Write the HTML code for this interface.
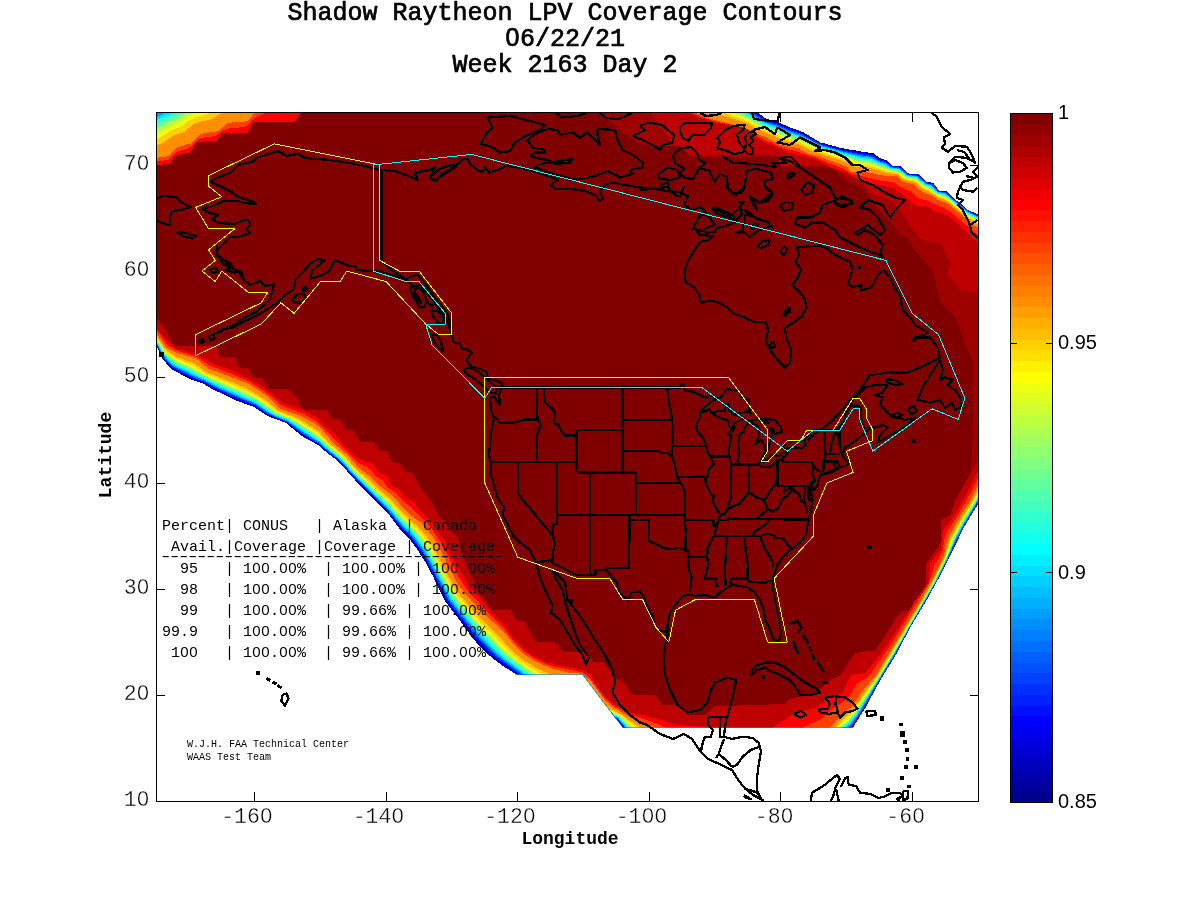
<!DOCTYPE html><html><head><meta charset="utf-8"><title>Shadow Raytheon LPV Coverage Contours</title>
<style>html,body{margin:0;padding:0;background:#fff}svg{display:block}text{font-family:"Liberation Mono","Courier New",monospace;fill:#000;white-space:pre}.s{font-family:"Liberation Sans",Arial,sans-serif}</style></head><body>
<svg width="1200" height="900" viewBox="0 0 1200 900">
<rect width="1200" height="900" fill="#fff"/>
<defs><clipPath id="fc"><polygon points="156,112 979,112 979,727.5 622.5,727.5 582.5,674.5 156,674.5"/></clipPath><clipPath id="ax"><rect x="156" y="112" width="823" height="690"/></clipPath></defs>
<path d="M254.5,801v-9M254.5,113v9M386.5,801v-9M386.5,113v9M517.5,801v-9M517.5,113v9M649.5,801v-9M649.5,113v9M780.5,801v-9M780.5,113v9M912.5,801v-9M912.5,113v9M157,695.5h8M978,695.5h-8M157,589.5h8M978,589.5h-8M157,483.5h8M978,483.5h-8M157,377.5h8M978,377.5h-8M157,271.5h8M978,271.5h-8M157,165.5h8M978,165.5h-8" stroke="#000" stroke-width="1" fill="none" shape-rendering="crispEdges"/>
<g clip-path="url(#fc)" shape-rendering="crispEdges">
<path d="M150.1,333.8 159.7,352.2 159.7,353.2 162.2,358.2 170.2,368.3 190.2,379.3 203.8,383.8 204.8,384.8 218.2,392.3 219.2,392.3 238.2,401.3 253.8,406.8 268.2,416.3 285.8,422.8 302.2,436.3 317.8,444.8 320.8,447.8 338.8,461.8 355.2,480.2 385.2,510.8 390.2,516.2 399.2,528.2 406.7,535.8 411.2,541.2 418.7,551.2 419.2,552.8 425.2,561.8 430.7,572.8 431.7,573.8 445.7,602.2 455.2,614.2 471.7,636.8 476.7,642.8 489.2,655.3 501.2,664.8 513.8,672.8 530.2,686.3 547.2,695.3 548.2,696.3 563.8,703.3 564.8,703.3 568.2,705.3 569.2,705.3 572.8,707.3 579.8,709.8 581.2,709.8 600.2,716.3 602.8,716.3 605.8,717.3 608.2,717.3 611.2,718.3 616.2,718.8 621.7,726.2 625.9,735.0 842.6,735.0 853.8,726.8 854.3,725.2 865.8,707.2 879.9,680.8 895.9,654.8 909.9,628.2 928.4,597.2 937.4,580.2 938.4,579.2 964.8,525.8 978.8,502.8 985.0,491.1 985.0,220.9 978.2,214.2 968.8,210.7 959.8,202.7 954.2,199.1 946.8,191.2 938.8,190.7 933.2,182.7 927.2,182.2 918.2,174.2 908.8,173.7 900.2,166.2 892.2,165.7 886.8,160.2 880.8,158.7 873.2,153.2 870.8,153.2 870.2,152.7 867.8,152.7 867.2,152.2 864.8,152.2 864.2,151.7 861.8,151.7 858.2,150.7 855.8,150.7 855.2,150.2 846.8,149.2 846.2,148.7 843.8,148.7 843.2,148.2 837.8,147.2 835.8,146.2 826.2,144.2 824.2,143.2 820.8,142.7 803.2,132.2 788.2,126.7 778.2,122.2 765.8,118.7 757.2,112.2 743.5,105.0 151.8,105.2 150.0,106.2Z" fill="#00008f"/>
<path d="M150.2,333.8 162.4,358.2 170.4,367.8 190.8,378.8 204.2,383.7 218.8,391.8 238.8,400.8 254.2,406.6 268.8,416.1 285.9,422.8 302.5,435.8 318.1,444.8 323.2,449.5 338.9,461.8 355.5,480.2 385.3,510.2 390.3,515.8 399.9,528.2 407.0,535.2 411.6,540.8 419.1,550.8 425.5,561.2 446.3,601.8 472.8,636.6 477.8,642.5 489.5,654.2 501.3,663.8 514.2,672.4 530.8,685.5 548.8,695.3 575.8,707.3 592.8,713.4 600.8,716.0 616.2,718.8 621.8,726.0 626.6,735.0 842.2,734.8 853.1,726.8 865.5,707.2 876.8,686.2 877.8,685.2 879.8,680.8 895.8,654.8 909.8,628.2 928.3,597.2 937.3,580.2 938.3,579.2 964.8,525.8 978.8,502.8 985.0,491.0 985.0,221.0 978.2,214.4 968.8,210.7 959.8,202.7 954.2,199.2 946.8,191.4 938.8,190.7 933.2,183.0 927.2,182.2 918.2,174.4 908.8,173.7 900.2,166.4 892.2,165.8 886.7,160.8 880.2,158.9 872.8,153.7 843.8,149.0 820.8,142.9 802.8,132.6 787.8,127.0 777.8,122.7 765.2,118.9 756.8,112.8 742.5,105.0 156.9,105.0 150.0,108.5Z" fill="#0000cf"/>
<path d="M150.1,333.2 162.9,357.8 170.8,366.9 191.1,377.8 204.3,382.8 218.2,390.5 239.2,399.8 254.2,405.7 268.8,415.3 286.2,422.2 302.8,434.9 318.6,444.2 323.4,448.8 339.3,461.2 356.2,480.1 385.9,509.8 390.9,515.2 400.7,527.8 407.8,534.6 412.2,540.0 419.9,550.2 426.4,560.8 447.2,601.3 473.8,635.8 478.9,641.8 492.8,655.3 502.2,663.0 515.2,671.8 531.2,684.3 549.8,694.2 570.2,702.8 576.2,705.9 593.2,712.4 601.2,715.2 616.8,718.6 622.4,725.8 627.7,735.0 840.6,735.0 841.8,734.3 852.4,726.2 865.0,706.8 879.7,680.2 895.3,654.8 909.8,628.1 935.6,583.8 964.5,525.2 978.2,502.5 985.0,489.7 985.0,221.8 977.8,214.9 968.2,210.9 959.8,203.4 953.8,199.3 946.8,192.2 938.2,190.9 932.8,183.6 926.8,182.7 917.8,174.9 908.2,174.0 899.8,166.9 891.8,166.2 886.2,161.4 880.2,159.8 872.2,154.7 861.2,153.2 843.2,149.8 820.2,143.6 802.8,133.6 787.8,128.1 777.2,123.6 765.0,119.8 756.5,113.8 739.9,105.0 162.5,105.0 150.0,111.1Z" fill="#0010ff"/>
<path d="M150.1,332.2 161.9,354.8 164.8,359.0 171.4,366.2 191.2,376.7 204.8,382.0 219.2,389.8 254.8,405.0 268.2,414.1 286.8,421.7 303.2,434.1 318.8,443.5 326.3,450.2 339.8,460.9 356.8,479.8 386.6,509.2 401.6,527.2 408.3,533.8 413.0,539.2 420.8,549.6 427.2,560.2 448.2,600.8 473.1,632.8 480.2,641.1 490.8,651.8 498.2,658.1 532.2,683.2 550.2,692.8 601.2,714.4 616.8,718.1 622.8,725.2 628.9,735.0 839.8,734.7 851.8,725.5 864.2,706.7 879.3,680.2 895.2,654.2 909.6,627.8 935.4,583.2 947.4,559.8 955.8,541.2 964.0,525.2 977.8,502.2 985.0,488.6 985.0,222.6 977.8,215.7 968.0,211.2 959.4,203.8 953.6,199.8 946.2,192.6 938.2,191.4 932.4,184.2 926.6,183.2 917.8,175.6 908.2,174.6 899.8,167.6 891.6,166.8 885.8,162.1 879.8,160.5 871.8,155.7 861.2,154.3 843.2,150.7 819.8,144.2 802.2,134.3 787.2,129.1 777.2,124.7 764.8,120.7 755.8,114.5 737.0,105.0 168.5,105.0 150.0,114.1Z" fill="#0050ff"/>
<path d="M150.0,331.2 162.2,354.3 165.5,358.8 172.2,365.6 191.8,375.7 205.2,381.2 218.8,388.4 255.2,404.2 269.2,413.7 276.8,417.3 287.2,421.2 303.8,433.2 319.2,442.9 326.8,449.7 340.2,460.4 357.3,479.2 387.2,508.7 402.5,526.8 409.3,533.2 414.1,538.8 421.8,549.1 428.2,559.8 449.3,600.2 478.8,637.2 491.8,650.6 499.2,657.2 530.8,680.6 545.8,688.9 553.2,692.5 571.2,699.3 580.2,704.2 601.2,713.4 617.2,717.8 623.3,724.8 630.2,735.0 838.1,735.0 851.0,724.8 857.9,715.2 894.7,654.2 909.2,627.8 927.6,596.8 937.5,578.8 947.0,559.8 955.5,540.8 963.6,524.8 977.2,502.2 985.0,487.7 985.0,223.4 977.2,216.2 967.8,211.6 959.2,204.2 953.2,200.1 946.0,193.2 937.8,191.7 931.8,184.8 926.2,183.7 917.2,176.1 907.8,175.0 899.2,168.0 891.2,167.3 885.8,163.2 879.2,161.3 871.8,156.9 860.8,155.4 843.2,151.6 819.8,145.0 802.2,135.4 786.8,130.0 776.8,125.6 764.2,121.5 751.8,113.5 734.3,105.0 174.0,105.0 150.0,117.2Z" fill="#009fff"/>
<path d="M150.2,330.8 162.2,353.2 166.1,358.2 172.8,364.8 188.8,372.4 192.2,374.6 205.8,380.4 218.2,387.0 255.2,403.1 269.8,413.0 276.8,416.5 287.8,420.7 304.2,432.4 319.7,442.2 327.2,449.2 340.8,460.0 357.9,478.8 385.2,505.3 392.8,513.4 403.2,526.0 410.2,532.7 415.2,538.2 422.6,548.2 427.8,556.7 450.2,599.4 480.0,636.2 492.8,649.5 502.2,657.8 526.2,675.7 536.8,682.6 553.8,690.9 572.2,697.6 580.8,702.6 598.8,711.4 617.3,717.2 623.8,724.2 631.7,735.0 837.2,734.8 850.2,724.1 857.3,714.8 894.2,654.1 908.8,627.8 934.7,583.2 946.6,559.8 954.8,540.8 963.0,524.8 975.5,504.2 985.0,486.6 985.0,224.1 977.2,217.1 967.8,212.2 958.8,204.5 952.8,200.2 945.8,194.0 937.7,192.2 931.8,185.8 925.9,184.2 917.0,176.8 907.8,175.6 899.2,168.8 890.8,167.8 885.2,164.0 878.8,162.1 871.2,158.0 858.2,156.2 842.8,152.4 819.2,145.7 801.8,136.3 786.2,131.1 776.5,126.8 763.8,122.4 750.8,114.3 730.7,105.0 179.7,105.0 171.2,110.0 150.0,120.5Z" fill="#00dfff"/>
<path d="M150.2,330.2 162.7,352.8 166.8,357.8 173.8,364.0 218.8,385.9 255.8,402.2 269.8,412.0 274.7,414.8 287.5,419.8 290.2,421.4 320.2,441.6 327.3,448.2 341.2,459.5 354.0,473.8 386.1,504.8 404.2,525.4 411.2,531.9 416.0,537.2 423.8,547.7 428.8,556.0 451.2,598.6 476.4,629.8 493.8,648.1 503.3,656.8 512.3,663.8 529.8,676.3 537.2,681.1 553.2,688.8 573.1,695.8 581.2,700.8 600.8,711.1 617.8,716.9 624.8,724.2 633.4,735.0 835.4,735.0 849.2,723.5 856.8,714.2 894.0,653.8 934.3,583.2 946.4,559.2 954.2,540.8 960.6,528.2 976.6,501.2 985.0,485.2 985.0,224.9 976.8,217.6 967.2,212.5 945.2,194.5 937.2,192.6 931.2,186.4 925.8,185.0 916.8,177.4 907.2,176.1 898.8,169.4 890.2,168.4 884.8,164.9 878.2,163.0 870.8,159.1 858.2,157.6 853.2,155.8 842.2,153.3 819.2,146.7 801.2,137.2 785.8,132.2 776.2,127.9 763.2,123.3 749.9,115.2 727.2,105.0 186.3,105.0 172.8,112.7 163.8,116.7 150.0,123.9Z" fill="#20ffdf"/>
<path d="M150.2,329.2 163.1,352.2 167.6,357.2 174.2,362.9 189.8,369.9 195.8,373.4 219.2,384.8 238.8,392.9 256.2,401.2 274.8,413.8 288.2,419.2 296.2,424.0 305.8,430.7 312.8,434.9 320.8,440.8 328.0,447.8 341.8,458.9 354.6,473.2 386.8,503.9 405.2,524.7 412.4,531.2 416.9,536.2 427.5,551.2 444.7,584.2 452.4,597.8 477.7,628.8 485.2,636.9 501.8,653.3 514.8,663.8 528.0,673.2 538.2,679.7 554.8,687.3 573.8,693.6 599.8,709.4 618.2,716.5 624.2,722.2 635.5,735.0 834.2,734.8 848.3,722.8 855.9,713.8 879.9,676.2 893.7,653.2 934.1,582.8 946.0,559.2 955.2,537.2 962.2,523.8 974.5,503.8 985.0,483.8 985.0,225.8 976.2,218.2 966.8,212.9 945.8,195.8 936.8,193.0 930.8,187.1 925.2,185.6 916.2,178.1 906.8,176.6 898.7,170.2 889.8,169.0 883.8,165.8 877.8,164.0 870.2,160.4 857.8,159.0 853.2,157.2 842.2,154.5 818.8,147.5 810.8,143.8 800.8,138.2 784.8,133.3 775.8,129.1 762.8,124.4 748.2,115.9 722.9,105.0 193.8,105.1 184.8,109.2 174.2,115.7 165.2,119.6 153.5,126.2 150.0,127.5Z" fill="#60ff9f"/>
<path d="M150.2,328.2 163.6,351.8 168.2,356.4 175.2,362.0 190.2,368.5 200.3,374.2 219.8,383.5 239.2,391.5 257.1,400.2 275.2,413.0 288.3,418.2 296.8,423.0 313.8,434.0 321.2,439.9 328.8,447.2 342.3,458.2 355.8,473.2 387.8,503.2 406.2,523.9 413.5,530.2 418.2,535.6 428.6,550.2 445.8,583.3 453.5,596.8 477.8,626.0 503.2,652.2 515.8,662.5 529.2,672.0 538.8,677.8 555.8,685.5 574.8,691.4 600.2,708.2 618.8,716.1 638.1,735.0 832.3,735.0 833.8,734.0 847.5,721.8 855.2,713.0 879.6,675.8 893.1,653.2 933.8,582.5 945.8,558.8 954.6,536.8 964.6,518.2 974.0,503.2 985.0,482.4 985.0,226.9 976.2,219.2 966.8,213.6 945.8,196.7 936.8,193.7 930.2,188.0 924.8,186.2 916.2,179.0 906.8,177.4 904.8,176.3 898.2,170.9 889.2,169.8 883.2,166.8 877.2,165.2 869.8,161.8 857.2,160.5 852.8,158.5 818.2,148.4 810.8,145.1 800.2,139.4 784.2,134.7 775.2,130.4 761.8,125.4 747.7,117.2 717.8,105.0 205.0,105.0 193.2,109.1 185.4,112.8 176.2,118.9 165.8,123.4 155.2,129.7 150.0,131.4Z" fill="#afff50"/>
<path d="M150.0,326.8 163.2,349.9 167.8,354.6 174.8,359.9 191.2,367.0 204.2,374.8 220.8,382.3 240.2,390.1 254.2,397.1 265.5,404.2 276.9,412.8 288.8,417.4 297.2,421.9 314.8,433.0 318.8,436.3 329.2,446.2 343.1,457.8 352.6,468.8 375.7,490.8 387.6,501.2 407.3,522.8 415.3,529.8 419.7,534.8 429.9,549.2 447.2,582.8 454.8,595.5 461.2,603.9 479.2,624.7 504.6,650.8 516.8,661.1 527.8,668.8 539.8,676.0 556.8,683.3 575.8,688.8 577.2,689.7 601.8,707.6 617.8,714.7 620.3,716.2 641.4,735.0 830.4,735.0 833.2,733.0 846.5,720.8 854.5,712.2 879.2,675.2 922.8,601.2 933.4,582.2 945.3,558.8 952.0,540.2 954.0,536.2 964.0,517.8 973.5,502.8 985.0,480.9 985.0,228.1 975.3,219.8 966.4,214.2 948.7,199.8 944.2,196.9 936.2,194.2 929.8,188.9 924.8,187.3 915.8,179.7 906.2,178.0 904.2,177.1 899.8,172.9 897.8,171.7 888.2,170.5 869.2,163.3 856.2,162.2 850.2,159.3 818.2,149.7 810.2,146.3 799.8,140.7 783.2,136.1 774.3,131.8 761.2,126.7 746.8,118.6 711.5,105.0 213.4,105.0 207.8,108.5 195.2,112.5 189.9,114.8 185.5,117.2 178.8,122.4 167.8,126.8 157.2,133.5 150.0,135.7Z" fill="#efff10"/>
<path d="M150.2,325.8 163.4,348.8 168.2,353.3 173.8,357.4 179.2,360.2 192.2,365.2 205.7,373.8 240.8,388.3 250.8,393.2 259.2,398.1 266.2,402.9 277.8,412.0 289.2,416.3 299.8,421.6 316.2,432.1 329.8,445.2 343.6,456.8 355.0,469.8 367.8,481.0 376.6,489.8 388.3,499.8 408.7,521.8 417.0,528.8 423.8,536.8 431.0,547.2 448.7,581.8 457.8,596.2 481.1,623.2 495.3,637.2 508.0,650.8 518.4,659.8 529.2,667.2 541.2,674.1 557.8,680.8 577.2,685.9 581.5,688.8 600.5,704.8 620.8,715.5 645.8,735.0 828.4,735.0 834.2,730.5 853.3,711.8 867.7,690.2 877.8,676.2 922.5,600.8 933.0,581.8 944.8,558.5 950.9,540.2 952.9,536.2 963.2,517.3 972.6,502.8 985.0,479.0 985.0,229.5 980.2,225.0 966.2,215.2 948.2,200.4 943.8,197.9 937.8,196.0 929.2,190.0 924.2,188.3 915.2,180.7 908.2,179.6 903.8,178.0 897.8,172.9 887.8,171.6 868.8,165.1 855.2,164.1 849.8,160.9 817.8,151.0 809.8,147.8 799.2,142.2 782.8,138.0 773.8,133.5 760.2,128.1 745.8,120.2 711.2,108.0 705.0,105.0 224.1,105.0 221.8,105.8 209.8,113.1 196.8,116.8 191.8,118.8 187.8,121.2 181.8,126.3 169.8,131.0 159.2,138.1 150.0,140.6Z" fill="#ffcf00"/>
<path d="M150.1,323.8 155.4,333.8 164.2,348.2 174.6,355.8 181.2,358.7 193.2,362.9 206.8,372.1 244.2,387.1 260.2,396.3 267.4,401.2 278.8,410.9 291.2,415.5 300.2,419.7 317.8,430.7 330.8,444.1 344.8,455.9 355.9,468.8 368.8,479.7 377.4,488.2 389.5,498.2 409.8,519.7 418.8,527.0 425.8,535.2 432.9,545.8 450.7,580.8 459.8,594.7 470.8,607.7 482.9,620.8 497.8,635.1 508.8,647.5 519.4,657.2 535.8,667.8 551.2,675.0 567.2,679.8 579.1,682.2 584.2,685.9 603.3,704.2 622.2,715.1 628.8,720.1 648.8,732.5 652.0,735.0 825.7,735.0 831.8,730.5 843.0,718.8 853.2,709.3 866.5,689.8 877.2,675.8 921.8,600.7 932.0,582.2 944.1,558.2 949.8,539.8 951.8,535.8 962.2,516.8 971.7,502.2 985.0,476.6 985.0,231.2 979.8,226.1 965.8,216.1 947.8,201.3 942.3,198.8 938.8,197.7 928.2,191.1 923.8,189.6 914.8,182.0 903.2,179.4 897.8,174.3 887.8,173.2 867.8,167.3 853.8,166.7 849.2,163.1 810.8,150.3 798.2,144.1 782.2,140.5 772.8,135.6 756.2,128.6 745.2,122.6 710.2,111.4 697.0,105.0 243.4,105.0 240.2,108.0 223.8,111.4 212.2,118.9 197.8,122.4 194.5,123.8 191.8,125.5 184.8,131.8 172.2,136.3 161.8,143.9 150.0,146.6Z" fill="#ff8f00"/>
<path d="M150.2,320.7 156.4,332.8 166.2,347.6 176.2,352.7 195.8,358.2 208.2,368.7 210.8,369.2 212.2,370.2 216.2,371.2 217.8,372.2 221.8,373.2 223.2,374.2 227.2,375.2 228.8,376.2 231.2,376.7 232.8,377.7 235.2,378.2 236.8,379.2 239.2,379.7 240.8,380.7 246.8,382.7 258.8,390.2 269.2,397.7 280.2,408.6 301.8,416.2 314.2,423.2 319.2,426.7 334.2,443.7 348.3,455.8 357.8,467.1 370.2,476.6 379.8,486.1 391.2,494.7 407.2,511.7 416.2,519.7 420.8,522.2 427.8,529.8 437.3,543.2 450.8,571.8 451.8,572.8 454.3,578.2 461.3,588.8 474.3,603.8 487.2,616.7 503.8,631.8 512.8,643.2 523.2,653.7 533.2,660.2 544.8,665.7 549.8,667.2 553.8,669.2 559.2,670.2 559.8,670.7 561.8,670.7 564.2,671.7 566.2,671.7 568.8,672.7 581.8,673.7 590.8,681.2 604.8,700.2 613.2,707.2 630.2,717.7 631.2,717.7 632.8,718.7 633.8,718.7 635.2,719.7 636.2,719.7 637.8,720.7 638.8,720.7 640.2,721.7 641.2,721.7 642.8,722.7 654.8,727.2 664.0,735.0 820.3,735.0 829.8,728.1 841.2,714.6 851.1,707.2 864.1,688.8 876.0,674.8 921.0,599.8 922.6,596.2 931.1,581.8 943.0,557.8 947.6,538.8 960.1,515.8 970.1,501.2 980.1,480.2 985.0,472.4 985.0,234.7 978.2,227.9 971.8,223.9 965.2,217.9 946.8,203.0 938.8,200.4 931.2,195.5 922.2,191.9 913.2,184.0 911.2,183.9 908.8,182.9 902.2,181.9 896.8,176.4 880.8,175.3 880.2,174.8 876.2,174.3 871.8,172.8 869.8,172.8 867.2,171.8 850.2,171.8 847.2,166.8 834.2,162.3 832.8,161.3 830.2,160.8 828.8,159.8 826.2,159.3 824.8,158.3 807.8,153.3 797.2,147.8 786.2,146.3 783.2,145.3 780.8,145.3 766.2,137.3 765.2,137.3 755.8,132.8 754.8,132.8 743.2,126.8 719.8,121.3 705.2,117.3 702.8,115.8 701.8,115.8 699.2,114.3 693.8,112.3 686.0,105.0 259.0,105.0 255.3,111.8 247.8,121.3 228.2,122.8 217.8,131.3 203.2,133.3 202.8,133.8 200.2,133.8 191.8,143.3 185.2,144.8 183.2,145.8 181.8,145.8 179.8,146.8 178.2,146.8 167.8,156.3 150.0,158.8Z" fill="#ff4000"/>
<path d="M150.1,318.2 155.6,328.2 164.8,341.8 167.8,345.1 173.2,348.6 177.2,350.7 196.2,356.4 209.2,365.3 228.2,372.5 247.8,380.8 255.2,385.1 270.8,395.8 281.2,405.3 302.8,413.6 315.8,420.5 321.2,425.3 357.2,461.8 369.1,468.2 376.2,476.5 382.3,480.2 388.2,487.7 396.8,493.7 402.2,500.3 409.2,505.6 418.5,515.2 426.5,522.2 432.9,530.2 440.6,541.8 458.1,576.2 465.0,586.8 472.7,596.2 485.7,610.2 502.5,626.8 512.2,639.5 523.8,651.2 534.2,658.1 546.8,664.4 554.8,666.7 582.8,672.4 587.2,675.4 590.2,678.2 604.8,698.0 613.8,705.7 630.2,714.8 656.8,723.3 673.2,732.1 680.0,735.0 789.1,735.0 794.8,733.3 802.2,728.0 820.8,719.0 835.0,706.8 846.5,699.8 849.5,696.2 856.8,683.6 866.8,677.8 871.9,672.2 893.0,641.2 913.6,607.2 928.2,584.3 929.9,580.2 934.6,564.8 939.8,556.6 942.4,551.2 944.8,537.8 946.8,531.8 953.9,521.2 966.1,501.2 977.5,478.8 985.0,466.3 985.0,242.2 975.5,232.8 949.2,211.1 943.2,207.7 936.3,205.2 928.2,200.8 919.8,198.8 915.3,195.8 910.2,191.2 899.2,186.2 894.2,182.4 880.2,180.4 865.2,176.8 860.2,176.2 849.8,173.2 845.2,169.5 830.8,164.1 814.2,156.9 806.2,154.7 796.2,151.1 788.8,149.7 780.2,146.9 763.2,139.1 754.2,134.2 748.2,129.5 744.2,127.5 714.2,121.2 699.2,116.2 692.8,113.2 688.8,110.8 682.8,105.0 288.3,105.0 285.8,108.0 269.8,110.4 253.2,119.2 251.2,120.7 248.8,124.2 244.2,127.1 230.2,128.1 221.8,131.0 218.8,133.6 214.8,136.1 201.8,137.8 196.2,140.7 193.0,144.8 187.8,148.6 179.9,150.8 176.2,152.4 168.2,160.0 150.0,162.2Z" fill="#ff0000"/>
<path d="M150.2,317.0 156.5,327.8 165.5,339.8 176.2,348.5 195.8,354.0 210.2,362.5 211.2,362.5 212.8,363.5 213.8,363.5 215.2,364.5 228.8,369.5 235.8,373.0 236.8,373.0 243.8,376.5 244.8,376.5 258.8,384.5 269.2,391.5 282.2,402.5 283.2,402.5 284.8,403.5 285.8,403.5 287.2,404.5 300.8,409.5 317.8,418.0 319.5,420.8 333.2,432.5 336.5,435.8 344.0,445.2 359.2,459.5 360.8,459.5 362.8,460.5 364.2,460.5 366.2,461.5 372.8,463.0 379.2,473.5 386.8,475.0 391.0,485.2 399.8,490.0 405.2,497.5 412.8,501.0 420.0,510.2 431.5,521.8 444.0,540.2 451.0,555.2 457.0,564.8 463.5,578.2 475.5,593.8 485.0,603.2 485.5,604.8 495.0,615.8 505.0,625.8 513.5,638.2 524.8,649.5 535.2,656.5 547.2,663.0 552.2,663.5 555.2,664.5 557.8,664.5 558.2,665.0 560.2,665.0 560.8,665.5 562.8,665.5 565.2,666.5 567.2,666.5 569.8,667.5 575.8,668.5 577.8,669.5 582.8,670.5 588.2,673.5 590.5,675.2 597.0,686.2 605.8,697.5 614.2,704.5 630.2,712.5 654.8,718.0 675.2,724.5 679.8,724.5 680.2,725.0 684.8,725.0 685.2,725.5 704.8,727.0 712.8,735.0 769.0,735.0 773.2,727.0 787.8,717.5 789.2,717.0 794.8,713.0 805.2,710.5 805.8,710.0 807.2,710.0 807.8,709.5 809.2,709.5 809.8,709.0 811.2,709.0 811.8,708.5 813.2,708.5 813.8,708.0 815.2,708.0 829.8,698.0 841.8,693.0 842.8,693.0 850.8,675.0 865.2,673.0 866.5,671.8 891.0,639.8 891.5,638.2 893.5,635.8 894.0,634.2 896.0,631.8 896.5,630.2 898.5,627.8 899.0,626.2 901.0,623.8 914.0,602.2 927.5,583.8 928.5,580.2 928.5,576.8 929.0,576.2 929.0,572.8 929.5,572.2 929.5,568.8 930.0,568.2 930.5,562.8 940.5,550.2 943.0,530.2 953.5,517.2 954.5,514.8 963.5,499.8 978.0,470.8 985.0,461.2 985.0,249.8 965.2,230.0 954.8,221.0 946.8,215.0 939.8,212.5 938.2,211.5 937.2,212.0 926.8,206.5 917.2,206.0 911.8,202.5 902.2,194.0 891.2,187.5 888.8,187.5 885.8,186.5 880.8,186.0 880.2,185.5 858.8,180.5 847.2,173.0 830.8,167.5 813.2,158.0 809.2,157.5 804.8,156.0 802.8,156.0 798.2,154.5 796.2,154.5 791.8,153.0 787.8,152.5 777.2,147.0 763.8,142.5 754.2,136.0 748.2,129.5 744.2,127.5 741.2,127.5 740.8,127.0 738.2,127.0 734.8,126.0 731.8,126.0 731.2,125.5 728.8,125.5 728.2,125.0 713.8,122.5 698.8,117.5 687.8,112.5 680.2,105.0 300.0,105.0 300.0,112.8 295.2,122.0 253.2,122.0 247.8,132.5 222.2,133.0 216.8,140.5 197.2,142.0 189.8,152.5 177.2,155.0 169.8,163.5 166.8,163.5 166.2,164.0 163.2,164.0 162.8,164.5 159.8,164.5 159.2,165.0 156.2,165.0 155.8,165.5 150.0,165.5Z" fill="#bf0000"/>
<path d="M150.2,310.5 157.5,317.8 159.5,321.8 161.5,324.2 174.2,345.5 215.8,345.5 216.5,346.2 218.5,352.8 220.2,356.5 233.8,357.0 240.2,367.5 247.8,368.0 254.2,377.5 261.8,378.0 268.2,388.5 287.8,389.0 298.0,398.2 302.2,409.5 313.8,409.5 314.2,410.0 325.8,410.0 327.2,410.5 332.2,418.5 339.8,419.0 340.5,419.8 345.2,429.5 352.8,430.0 359.2,441.5 373.2,441.5 379.2,450.5 387.0,451.2 392.2,462.5 399.8,463.0 405.2,471.5 412.8,473.0 421.0,489.2 431.5,501.8 439.5,517.8 445.0,520.8 449.5,530.2 458.0,537.2 460.5,553.2 468.5,568.8 470.5,576.2 480.0,594.2 484.0,599.2 490.2,609.5 510.8,610.5 516.8,620.5 524.2,621.0 525.0,621.8 529.0,630.2 530.0,631.2 535.2,641.5 554.8,642.5 563.2,651.5 586.8,652.0 592.8,661.5 604.2,662.5 613.5,676.8 619.8,680.5 624.2,682.5 632.2,694.5 654.8,695.0 662.2,704.5 679.8,705.0 687.2,714.5 695.8,714.5 696.2,715.0 704.8,715.0 705.2,715.5 715.2,705.5 737.8,705.5 738.2,705.0 753.8,705.0 754.2,704.5 769.2,704.5 769.8,704.0 785.2,704.0 790.8,697.5 794.8,697.5 795.2,697.0 812.8,695.5 830.8,680.0 840.2,675.5 855.8,652.5 859.2,652.5 859.8,652.0 875.2,650.5 882.0,640.8 882.5,639.2 885.5,635.2 886.0,633.8 889.0,629.8 889.5,628.2 892.5,624.2 897.5,615.8 902.8,610.5 908.8,610.5 910.0,609.2 914.0,602.2 924.5,587.2 925.5,585.2 925.5,579.8 926.0,579.2 926.5,562.8 940.5,542.8 940.5,520.2 950.5,515.2 955.0,501.2 957.5,496.2 958.5,495.2 960.0,491.8 961.0,490.8 962.5,487.2 963.5,486.2 965.0,482.8 971.0,472.8 978.0,458.8 985.0,448.8 985.0,293.0 975.8,293.0 975.2,292.5 960.8,290.5 959.5,289.2 947.5,273.2 950.5,263.2 940.5,243.2 934.2,242.5 933.8,242.0 930.8,242.0 928.8,241.0 927.2,241.0 925.2,240.0 918.8,238.5 896.8,205.0 885.2,198.0 872.8,195.5 859.2,180.5 854.2,177.5 845.8,176.5 840.2,170.5 830.8,167.5 826.2,165.0 780.8,164.5 776.2,155.0 690.2,155.0 684.2,148.0 672.8,144.5 672.0,143.8 663.0,129.2 660.0,125.8 651.0,112.8 644.2,105.0 300.0,105.0 300.0,112.8 295.2,122.0 253.2,122.0 247.8,132.5 222.2,133.0 216.8,140.5 197.2,142.0 189.8,152.5 177.2,155.0 169.8,163.5 166.8,163.5 166.2,164.0 163.2,164.0 162.8,164.5 159.8,164.5 159.2,165.0 156.2,165.0 155.8,165.5 150.0,165.5Z" fill="#9f0000"/>
<path d="M150.2,310.5 157.5,317.8 159.5,321.8 161.5,324.2 174.2,345.5 215.8,345.5 216.5,346.2 218.5,352.8 220.2,356.5 233.8,357.0 240.2,367.5 247.8,368.0 254.2,377.5 261.8,378.0 268.2,388.5 287.8,389.0 298.0,398.2 302.2,409.5 313.8,409.5 314.2,410.0 325.8,410.0 327.2,410.5 332.2,418.5 339.8,419.0 340.5,419.8 345.2,429.5 352.8,430.0 359.2,441.5 373.2,441.5 379.2,450.5 387.0,451.2 392.2,462.5 399.8,463.0 405.2,471.5 412.8,473.0 421.0,489.2 431.5,501.8 439.5,517.8 445.0,520.8 449.5,530.2 458.0,537.2 460.5,553.2 468.5,568.8 470.5,576.2 480.0,594.2 484.0,599.2 490.2,609.5 510.8,610.5 516.8,620.5 524.2,621.0 525.0,621.8 529.0,630.2 530.0,631.2 535.2,641.5 554.8,642.5 563.2,651.5 586.8,652.0 592.8,661.5 604.2,662.5 613.5,676.8 619.8,680.5 624.2,682.5 632.2,694.5 654.8,695.0 662.2,704.5 679.8,705.0 687.2,714.5 695.8,714.5 696.2,715.0 704.8,715.0 705.2,715.5 715.2,705.5 737.8,705.5 738.2,705.0 753.8,705.0 754.2,704.5 769.2,704.5 769.8,704.0 785.2,704.0 790.8,697.5 794.8,697.5 795.2,697.0 812.8,695.5 830.8,680.0 840.2,675.5 855.8,652.5 859.2,652.5 859.8,652.0 875.2,650.5 882.0,640.8 882.5,639.2 885.5,635.2 886.0,633.8 889.0,629.8 889.5,628.2 892.5,624.2 897.5,615.8 902.8,610.5 908.8,610.5 910.0,609.2 914.0,602.2 924.5,587.2 925.5,585.2 925.5,579.8 926.0,579.2 926.5,562.8 940.5,542.8 940.5,520.2 950.5,515.2 955.0,501.2 970.5,473.2 971.0,461.2 971.5,460.8 971.5,452.8 972.0,452.2 972.0,444.8 972.5,444.2 972.5,359.8 964.5,342.8 956.5,318.2 940.0,301.2 940.0,299.8 939.5,299.2 939.5,297.8 939.0,297.2 939.0,295.8 938.5,295.2 938.5,293.8 938.0,293.2 932.5,270.2 914.5,249.8 913.0,247.8 908.5,238.2 900.8,235.5 900.0,234.8 891.0,222.2 880.0,211.2 864.2,190.0 845.8,180.5 830.2,167.0 780.8,166.5 776.2,157.0 690.2,157.0 681.2,147.0 678.2,146.0 650.8,145.0 650.2,144.5 640.8,144.5 621.2,131.0 602.8,114.5 594.2,105.0 300.0,105.0 300.0,112.8 295.2,122.0 253.2,122.0 247.8,132.5 222.2,133.0 216.8,140.5 197.2,142.0 189.8,152.5 177.2,155.0 169.8,163.5 166.8,163.5 166.2,164.0 163.2,164.0 162.8,164.5 159.8,164.5 159.2,165.0 156.2,165.0 155.8,165.5 150.0,165.5Z" fill="#800000"/>
<path d="M515,674.5H582.5L622.5,727.5H853" fill="none" stroke="#0070ff" stroke-width="1"/>
</g>
<g clip-path="url(#ax)" fill="none" shape-rendering="crispEdges" stroke-linejoin="round">
<path d="M381.5,170.6 381.5,261.0 391.0,269.5 405.4,279.0 416.7,274.0 423.0,280.8 431.0,292.0 439.0,303.0 447.0,313.0 450.6,322.7 451.4,332.0M836.0,696.0 835.5,704.0 838.0,712.0M708.0,716.7 720.0,716.7 720.0,736.7 724.0,736.7M708.0,716.7 708.0,724.7 713.0,730.0 710.7,736.7 705.0,736.7 702.7,743.0 701.0,751.0M720.0,716.7 726.7,716.7M724.0,739.0 721.0,747.0 718.7,754.0 716.0,758.0M718.7,754.0 726.7,760.7 732.0,767.0M732.0,767.0 737.0,764.7 742.7,756.7 750.7,750.0 758.7,747.0M744.0,788.7 753.0,791.0 757.0,792.7M496.0,387.6 681.1,387.6M491.4,416.8 496.6,417.8 499.3,423.1 507.8,422.6 514.4,422.6 522.3,420.1 524.4,419.4 537.9,419.4M537.1,387.6 537.1,415.2 537.9,419.4 540.7,424.7 538.4,431.1 536.1,436.9 537.2,442.7 537.2,461.8M490.1,461.8 576.5,461.8M517.7,461.8 517.7,493.6 553.0,536.0M556.9,461.8 556.9,514.8M556.9,514.8 556.9,523.8 552.5,524.9 553.0,536.0 554.5,543.4 553.2,551.9 552.4,560.2M543.7,387.6 543.7,398.2 546.0,404.0 552.5,408.8 554.8,412.5 553.8,424.2 558.5,424.7 560.8,430.5 565.0,435.8 571.6,435.3 576.5,435.3M576.5,430.0 576.5,472.4M576.5,430.0 622.6,430.0M622.6,387.6 622.6,472.4M576.5,472.4 635.7,472.4M589.7,472.4 589.7,574.9M635.7,472.4 635.7,514.8M556.9,514.8 684.6,514.8M635.7,483.0 680.1,483.0M622.6,420.0 671.8,420.0M622.6,451.2 659.1,451.2 663.0,453.3 667.6,452.8 672.2,456.5M667.4,387.6 668.3,398.2 670.2,408.8 671.6,416.2 671.8,420.0 672.5,426.8 672.5,445.9 671.6,451.2 672.2,456.5M672.2,456.5 674.8,465.0 676.2,472.4 677.0,476.9 680.1,483.0 682.7,485.6 684.7,492.5 684.6,520.1M672.5,445.9 706.9,445.9M677.0,476.9 703.6,476.6 705.6,479.0M681.1,387.6 681.1,383.9 683.4,384.4 684.7,390.8 693.3,391.8 699.8,395.0 705.8,397.7 709.7,396.1 717.6,398.2M699.8,412.0 699.8,418.3 696.2,423.6 696.9,431.1 701.8,436.4 706.9,445.9 707.4,452.3 710.7,456.5 713.6,463.9 708.1,470.3 707.7,475.6 705.6,479.0 705.8,484.1 710.4,493.6 713.6,495.7 712.7,502.1 718.2,511.6 720.5,514.8 718.2,520.1 716.9,525.4 714.3,534.9 711.0,541.3 707.7,547.7 707.1,557.2 708.4,564.6 704.4,578.4M710.7,456.5 729.4,456.5M712.3,413.6 720.9,418.3 727.5,420.5 729.4,426.3 730.7,428.9M731.2,464.4 731.2,489.9 730.4,498.9 728.1,505.3 727.5,509.5M731.2,464.4 749.2,464.4 758.0,464.7M749.2,464.4 749.0,492.5M777.3,476.2 776.1,483.0 769.5,491.5 766.3,497.8 763.6,500.0 756.4,497.3 749.0,492.5 745.2,496.8 739.3,504.2 734.7,505.3 727.5,509.5 724.8,513.7 720.5,514.8M777.3,458.6 777.3,486.0M782.3,461.8 811.3,461.8 815.6,468.7 820.8,472.4M782.3,458.9 782.3,461.8M777.3,486.0 808.5,486.0M811.3,461.8 813.3,468.2 812.3,475.6 815.2,480.9 811.0,485.1 808.5,486.0M808.5,486.0 808.7,499.4 813.3,499.4M784.1,486.0 784.1,491.5 791.2,487.2 795.2,492.0 799.1,494.1 800.4,500.0 805.1,504.2M795.2,492.0 791.6,489.4 788.0,495.7 783.0,498.4 778.7,507.4 772.8,512.1 767.9,509.0 763.6,500.0M767.9,509.0 763.0,513.7 756.5,519.0M718.2,520.1 727.8,520.1 727.8,518.5 756.5,519.0 808.0,519.6M684.6,520.1 714.0,520.1 712.7,525.4 716.9,525.4M629.5,514.8 629.5,520.1 649.2,520.1 649.2,540.8 654.5,543.4 659.1,545.5 663.0,547.7 667.6,548.7 672.2,548.7 678.8,547.7 685.5,550.3M629.5,520.1 629.1,567.8 605.8,567.8 606.1,570.1M606.1,570.1 595.3,570.1 595.3,574.9 576.4,574.9 551.7,562.5 552.4,560.2 536.6,562.2M606.1,570.1 609.7,574.2 616.3,582.1 619.6,592.7 624.2,597.0 628.5,599.8 631.4,592.2 640.0,591.4 644.6,598.5 647.2,607.0 652.5,615.5 655.1,627.2 661.0,630.9 667.9,631.9M684.6,520.1 685.8,531.8 685.5,550.3 688.4,551.4 688.4,568.0 691.6,576.8 690.6,585.8 689.6,592.2M688.4,557.2 707.3,557.2M704.4,578.4 716.7,578.4 715.9,582.1 717.6,586.9M713.0,536.0 752.3,536.0 760.3,536.0M752.3,536.0 754.4,531.8 760.3,528.0 764.9,524.9 769.7,519.0M726.8,536.0 725.0,568.9 725.5,586.4M743.9,536.0 746.7,558.6 747.8,564.6 747.5,578.4 748.8,581.5M730.7,578.4 747.8,578.4M730.7,578.4 731.7,585.3M748.8,581.5 766.3,583.0 767.6,581.0 770.9,581.4M760.3,536.0 761.6,541.3 766.3,550.8 770.9,558.3 773.5,566.7M760.3,536.0 765.3,533.9 773.8,534.9 775.5,537.9 782.8,538.1 790.3,548.0M824.5,430.0 824.8,444.8 825.1,453.9 823.5,461.3 823.5,469.2 822.5,472.4M825.1,453.9 837.9,454.2 841.1,452.6M823.5,461.3 834.6,461.6 837.4,461.6 839.1,467.1M834.6,461.6 834.3,469.0M829.7,454.1 831.4,444.8 833.3,437.4 836.6,430.0M836.6,430.0 841.1,452.6M839.4,426.8 840.1,447.5 841.9,450.4M815.6,430.0 836.6,430.0 839.4,426.8 843.8,421.5 844.8,416.2 846.5,412.0 851.6,404.0 853.7,406.7 857.7,405.1 860.9,408.1 861.1,419.9 863.2,426.8 865.6,428.4M758.0,464.7 760.3,459.7 764.3,455.4 764.9,451.2M787.0,452.3 787.0,448.6M804.4,439.5 811.6,431.6 815.6,430.0" stroke="#000" stroke-width="2.4"/>
<path d="M381.6,170.6 365.0,166.0 350.0,163.0 330.0,160.0 306.0,158.0 298.0,154.0 286.0,156.0 278.0,151.0 268.0,154.0 256.0,158.0 254.0,161.0 238.0,165.0 230.0,173.0 216.0,178.0 210.0,182.0 218.0,185.0 230.0,191.0 238.0,197.0 254.0,202.0 256.0,204.0 244.0,203.0 238.0,201.0 224.0,201.0 212.0,206.0 202.0,209.0 210.0,213.0 218.0,215.0 212.0,219.0 218.0,223.0 234.0,224.0 244.0,220.0 249.0,220.0 250.0,225.0 246.0,229.0 250.0,233.0 238.0,237.0 230.0,237.0 224.0,243.0 218.0,249.0 216.0,255.0 222.0,259.0 230.0,263.0 226.0,265.0 238.0,271.0 242.0,277.0 244.0,280.0 250.0,285.0 260.0,281.0 265.0,286.0 274.0,284.5 272.5,290.0 270.0,299.0 262.5,306.0 255.0,312.5 245.0,317.5 235.0,324.0 225.0,329.0 232.5,327.5 245.0,321.0 257.5,315.0 267.5,309.0 277.5,302.5 285.0,295.0 294.0,289.0 295.0,280.0 302.5,272.5 310.0,264.0 317.5,259.0 325.0,260.0 320.0,264.0 312.5,270.0 310.0,279.0 315.0,277.5 325.0,274.0 330.0,270.0 332.5,264.0 336.0,260.0 344.0,264.0 350.0,266.0 355.0,266.0 357.5,270.0 370.0,271.0 380.0,271.0 387.5,274.0 392.5,275.0 400.0,277.5 405.4,279.0 410.0,282.5M217.5,245.0 216.0,252.5 221.0,259.0 222.5,265.0 230.0,262.5 232.5,267.5 225.0,270.0 235.0,272.5 241.0,271.0 244.0,280.0M292.5,299.0 297.5,294.0 304.0,294.0 306.0,299.0 300.0,302.5 294.0,302.5 292.5,299.0M302.0,288.0 306.0,287.0 307.0,290.0 303.0,291.0 302.0,288.0M209.0,335.0 214.0,334.5 214.5,339.0 210.0,340.5 209.0,335.0M199.0,340.0 203.0,339.0 204.0,342.0 200.0,343.0 199.0,340.0M224.0,329.0 219.0,331.0 216.0,333.0 221.0,332.0 224.0,329.0M177.0,232.0 186.0,233.0 196.0,236.0 192.0,238.6 182.0,236.0 177.0,233.0 177.0,232.0M210.0,269.0 216.0,268.0 218.0,272.0 212.0,273.0 210.0,269.0M157.0,199.0 162.0,196.0 176.0,197.0 182.0,203.0 191.0,207.0 180.0,210.0 172.0,211.0 170.0,217.0 170.0,225.0 162.0,223.0 157.0,221.0M410.0,287.0 416.7,285.6 423.0,292.0 426.4,300.0 424.8,306.6 420.0,308.0 416.7,301.7 412.0,295.0 410.0,287.0M423.0,287.0 429.6,293.7 434.4,301.7 432.8,306.6 428.0,303.0 424.8,295.0 423.0,287.0M431.0,309.8 437.7,311.4 444.0,319.4 442.5,324.0 437.7,322.7 432.8,316.0 431.0,309.8M414.0,292.0 418.0,296.0 421.0,303.0 417.0,300.0 414.0,292.0M436.0,305.0 441.0,309.0 445.0,315.0 440.0,313.0 436.0,305.0M432.8,334.0 437.7,335.6 441.0,342.0 443.3,351.7 439.3,348.4 434.4,342.0 432.0,337.0 432.8,334.0M410.0,282.5 415.0,290.0 420.0,284.0 425.0,290.0 432.0,298.0 438.0,306.0 445.0,316.0 449.0,326.0 451.4,335.6 453.8,342.0 460.0,343.6 461.8,348.4 468.3,350.0 471.5,353.0 466.7,359.7 470.0,366.0 476.3,367.8 486.0,371.0 487.6,377.4 492.0,380.0 497.3,380.7 502.0,383.9 501.0,389.0 499.0,395.0 500.0,405.0 496.0,400.0 494.0,396.0 490.0,397.5 491.0,410.0 494.0,419.0 491.0,432.5 490.0,445.0 489.0,455.0 491.0,462.5 491.0,475.0 494.0,485.0 497.5,497.5 504.0,507.5 502.5,515.0 507.5,524.0 512.5,535.0 520.0,542.5 530.0,550.0 536.0,562.5M463.4,369.4 470.0,367.8 479.6,372.6 486.0,379.0 492.4,383.9 497.3,388.7 495.7,393.6 489.2,392.0 482.8,385.5 474.7,379.0 466.7,374.2 463.4,369.4M381.0,170.0 395.0,171.0 412.5,177.5 417.5,180.0 415.0,172.5 430.0,170.0 435.0,167.5 430.0,177.5 436.0,181.0 442.5,175.0 455.0,167.5 462.5,159.0 467.5,159.0 470.0,164.0 477.5,170.0 482.5,172.5 485.0,167.5 489.0,172.5 497.5,170.0 505.0,166.0 520.0,167.5 532.5,171.0 542.5,174.0 552.5,177.5 557.5,180.0 550.0,185.0 555.0,189.0 570.0,189.0 585.0,191.0 595.0,195.0 600.0,201.0 602.5,199.0 600.0,190.0 605.0,185.0 612.5,182.5 625.0,185.0 640.0,187.5 655.0,189.0 667.5,191.0 680.0,192.5 688.0,196.0 684.0,205.0 692.0,210.0 700.0,207.0 706.0,212.0 698.0,218.0 692.5,230.0M431.0,176.0 440.0,168.5 453.5,164.0 455.0,166.0 442.5,173.5 435.5,181.0 431.0,179.0 431.0,176.0M487.5,117.5 510.0,116.0 530.0,121.0 545.0,125.0 540.0,130.0 525.0,136.0 515.0,142.5 510.0,151.0 500.0,152.5 492.5,147.5 481.0,144.0 485.0,135.0 492.5,127.5 487.5,117.5M547.5,129.0 557.5,130.0 560.0,135.0 572.5,132.5 580.0,137.5 587.5,132.5 595.0,140.0 600.0,145.0 597.5,135.0 597.5,129.0 615.0,130.0 617.5,140.0 622.5,150.0 632.5,155.0 642.5,162.5 642.5,167.5 630.0,170.0 632.5,174.0 620.0,177.5 607.5,171.0 595.0,176.0 580.0,179.0 565.0,177.5 550.0,172.5 535.0,167.5 540.0,164.0 560.0,161.0 572.5,159.0 570.0,162.5 555.0,164.0 548.0,160.0 540.0,159.0 530.0,156.0 535.0,152.5 545.0,152.5 545.0,150.0 532.5,147.5 527.5,140.0 535.0,134.0 547.5,129.0M556.0,113.0 562.5,117.5 577.5,116.0 586.0,113.0M600.0,113.0 606.0,118.0 618.0,119.0 628.0,115.0 632.0,113.0M632.5,136.0 645.0,130.0 640.0,126.0 647.5,122.5 662.5,125.0 667.5,130.0 674.0,135.0 672.5,142.5 662.5,145.0 660.0,150.0 652.5,145.0 642.5,140.0 632.5,136.0M657.5,175.0 667.5,167.5 677.5,170.0 680.0,177.5 670.0,180.0 660.0,179.0 657.5,175.0M660.0,185.0 667.5,182.5 670.0,190.0M680.0,127.0 685.0,122.7 696.0,123.0 712.0,123.0 710.7,128.7 704.0,134.7 693.0,135.0 688.0,140.7 682.7,138.0 680.0,131.0 680.0,127.0M720.0,135.0 725.0,130.0 733.0,126.0 745.0,124.7 742.7,130.0 737.0,134.0 738.7,142.0 744.0,148.7 742.7,152.7 733.0,154.0 725.0,150.0 717.0,148.7 720.0,142.0 717.0,138.0 720.0,135.0M746.7,134.0 753.0,131.0 756.0,134.0 750.7,136.7 753.0,140.7 749.0,144.7 753.0,148.7 753.0,154.0 748.0,154.0 744.0,150.0 746.7,143.0 745.0,138.0 746.7,134.0M673.0,155.0 680.0,148.7 690.7,147.0 697.0,152.7 698.7,159.0 705.0,163.0 698.7,168.7 696.0,174.0 693.0,179.0 685.0,178.0 680.0,172.7 684.0,168.7 674.7,163.0 673.0,155.0M698.7,168.7 709.0,170.0 714.7,182.0 720.0,174.0 726.7,176.7 728.0,188.7 736.0,195.0 745.0,184.7 746.7,171.0 756.0,168.7 770.7,172.7 773.0,179.0 765.0,180.7 765.0,187.0 773.0,194.0 768.0,200.7 760.0,203.0 750.7,196.7 756.0,206.0 757.0,211.0M721.0,155.0 733.0,163.0 741.0,163.0 760.0,164.7 776.0,167.0 773.0,163.0 786.7,163.0 778.7,158.0 790.7,156.7 800.0,166.0M640.0,190.0 653.0,188.7 666.7,187.0 674.7,195.0 680.0,196.7 684.0,186.0M710.7,208.7 720.0,211.0 730.7,216.7 736.0,211.0 744.0,202.0 737.0,202.0M698.7,212.7 709.0,216.7 714.7,224.7 704.0,228.7M738.7,208.7 746.7,211.0 757.0,219.0 768.0,222.0 773.0,229.0M749.0,228.7 754.7,223.0 758.7,224.7 753.0,229.0 749.0,228.7M780.0,206.0 785.0,202.0 793.0,203.0 792.0,208.7 784.0,211.0 780.0,206.0M786.7,176.7 790.7,172.7 794.7,174.0 789.0,179.0 786.7,176.7M700.0,113.0 706.0,116.0 716.0,115.0 722.0,113.0M752.0,113.0 754.0,119.0 770.0,121.0 778.0,121.0 779.0,113.0M753.0,130.0 765.0,127.0 774.7,134.0 777.5,127.5 790.0,135.0 777.5,142.5 790.0,145.0 800.0,137.5 810.0,142.5 820.0,147.5 815.0,151.0 825.0,150.0 835.0,152.5 845.0,157.5 852.5,165.0 860.0,165.0 867.5,170.0 857.5,172.5 860.0,180.0 872.5,185.0 885.0,192.5 895.0,197.5 905.0,200.0 895.0,210.0 890.0,217.5 882.5,205.0 867.5,200.0 860.0,207.5 870.0,210.0 877.5,217.5 885.0,230.0 880.0,235.0 867.5,225.0 855.0,232.5 857.5,235.0 865.0,230.0 875.0,235.0 882.5,245.0 880.0,255.0 872.5,252.5 860.0,247.5 850.0,242.5 840.0,237.5 835.0,230.0 822.5,222.5 812.5,222.5 805.0,227.5 795.0,224.0 797.5,217.5 810.0,217.5 820.0,212.5 822.5,205.0 832.5,201.0 840.0,205.0 852.5,204.0 850.0,200.0 835.0,197.5 830.0,187.5 815.0,177.5 800.0,167.5 790.0,161.0 777.5,157.5M801.0,190.0 807.5,182.5 813.8,185.0 812.5,192.5 805.0,195.0 801.0,190.0M834.0,201.5 841.3,196.0 852.3,201.5 845.0,207.0 837.7,206.0 834.0,201.5M725.8,186.8 733.0,194.0 742.3,192.3 745.0,186.0M764.3,185.0 771.7,192.3 766.0,198.8 758.8,202.4 753.3,198.8 749.7,196.0 755.0,208.8M692.5,230.0 694.7,229.0 707.5,232.7 714.8,231.8 716.7,228.0 725.8,226.0 735.0,221.7 742.0,214.0 740.5,208.8M711.0,208.8 716.7,208.0 733.0,215.0 735.0,220.0 725.8,217.0 716.7,213.4 711.0,208.8M735.0,233.6 742.3,230.0 744.0,221.7 746.0,212.5 749.7,216.0 758.8,219.0 768.0,221.7 770.7,226.0 762.5,229.0 757.0,231.0 749.7,237.2 743.2,231.8 735.0,233.6M757.0,246.4 762.5,241.0 769.8,240.0 768.0,244.6 760.7,248.2 757.0,246.4M780.0,251.0 784.5,246.4 787.2,249.0 783.6,255.6 780.0,251.0M694.7,229.0 700.0,234.5 713.0,236.3 709.3,240.0 700.0,241.8 692.8,252.8 687.3,262.0 684.6,273.0 685.5,282.0 694.7,287.7 700.0,296.8 700.0,303.2 709.3,300.5 718.5,302.3 727.7,307.8 733.0,313.3 744.0,317.0 753.3,321.6 766.0,322.5 768.0,329.8 766.0,341.0 770.0,350.0 777.5,360.0 785.0,367.5 790.0,362.5 791.0,350.0 786.0,337.5 786.3,335.3 784.5,328.0 793.7,322.5 801.0,317.0 806.5,307.8 804.7,298.7 799.0,291.3 791.8,285.0 797.3,278.5 801.0,269.3 795.5,262.0 799.0,254.7 797.3,247.3 808.3,246.4 819.3,245.5 826.7,248.2 832.0,252.8 841.3,258.3 850.5,262.0 852.3,269.3 850.5,276.7 847.8,284.0 852.3,286.8 861.5,285.0 860.6,290.4 870.7,287.7 874.3,282.0 878.0,274.8 883.5,269.3 889.0,276.7 894.5,287.7 900.0,295.0 902.5,310.0 910.0,317.5 915.0,325.0 927.5,332.5 912.5,341.0 915.0,337.5 930.0,337.5 937.5,347.5 940.0,357.5 930.0,362.5 920.0,367.5 907.5,372.5 890.0,372.5 870.0,375.0 860.0,390.0 850.0,400.0 840.0,412.5 830.0,422.5 820.0,430.0 807.5,440.0M782.7,315.0 790.0,307.8 790.0,311.5 784.5,316.0 782.7,315.0M770.0,344.0 774.0,342.0 775.0,347.0 771.0,348.0 770.0,344.0M783.0,312.0 789.0,308.0M850.0,402.5 865.0,387.5 875.0,385.0 887.5,385.0 882.5,392.5 875.0,395.0 882.5,397.5 880.0,405.0 885.0,410.0 890.0,415.0 897.5,417.5 905.0,420.0 915.0,417.5 907.5,425.0 900.0,430.0 890.0,435.0 882.5,440.0 877.5,442.5 880.0,435.0 887.5,427.5 882.5,425.0 875.0,427.5 870.0,427.5 862.5,435.0 852.5,442.5 845.0,447.5 842.5,455.0 845.0,460.0 850.0,462.5 845.0,466.0 837.5,467.5 830.0,472.5 820.0,475.0 817.5,485.0 813.8,490.0 810.0,488.0 812.5,500.0 811.0,510.0 810.0,515.0 807.5,525.0 806.0,535.0 800.0,542.5 790.0,550.0 782.5,557.5 777.5,565.0 773.8,575.0 772.5,585.0 775.0,600.0 777.5,612.5 780.0,625.0 781.0,635.0 778.8,641.0 773.8,640.0 770.0,630.0 765.0,620.0 763.8,610.0 760.0,600.0 755.0,592.5 747.5,587.5 740.0,586.0 732.5,585.0 727.5,587.5 720.0,592.5 715.0,597.5 705.0,595.0 695.0,596.0 690.0,594.0 682.5,596.0 675.0,605.0 670.0,612.5 667.5,625.0 667.5,635.0 665.0,645.0 663.8,660.0 665.0,675.0 670.0,690.0 677.5,705.0 687.5,712.5 700.0,710.0 707.5,702.5 711.0,690.0 715.0,682.5 727.5,677.5 736.0,680.0 733.8,692.5 730.0,707.5 727.5,716.0 726.7,716.7 725.0,727.0 724.0,736.7 732.0,739.0 742.7,736.7 753.0,738.0 758.7,743.0 761.0,751.0 758.7,764.7 757.0,778.0 757.0,791.0 761.0,799.0 763.0,801.0M822.5,474.0 837.5,469.0 830.0,473.0 822.5,474.0M890.0,416.0 897.0,413.0 903.0,415.0 896.0,418.0 890.0,416.0M908.0,409.0 914.0,406.0 917.0,411.0 911.0,414.0 908.0,409.0M885.0,379.0 895.0,380.0 902.5,384.0 895.0,385.0 887.5,382.5 885.0,379.0M805.0,487.5 803.8,500.0 807.5,512.5M813.8,490.0 811.0,484.0 813.0,480.0M940.0,360.0 930.0,375.0 922.5,387.5 917.5,400.0 930.0,402.5 940.0,400.0 945.0,407.5 952.5,402.5 955.0,410.0 961.0,407.5 960.0,397.5 955.0,390.0 947.5,385.0 952.5,380.0 945.0,377.5 940.0,380.0 942.5,370.0 940.0,360.0M931.7,113.0 936.7,116.7 941.7,126.7 950.0,134.0 944.0,137.5 945.0,144.0 941.7,148.0 948.0,151.7 955.0,146.0 966.7,146.7 971.0,153.0 975.0,162.5 966.7,158.0 955.0,156.7 949.0,163.0 955.0,160.0 963.0,163.0 966.7,168.0 960.0,171.7 953.0,172.5 949.0,168.0 949.0,163.0M978.0,166.7 973.0,171.7 977.5,176.7 970.0,180.0 963.0,181.7 960.0,186.7 963.0,190.0 973.0,191.7 977.5,188.0M963.0,181.7 958.0,191.7 956.7,198.0 963.0,200.0 958.0,205.0 963.0,210.0 966.7,218.0 970.0,225.0 977.5,220.0M970.0,225.0 971.0,231.7 977.5,238.0M957.0,150.0 964.0,152.0 969.0,158.0M966.0,176.0 974.0,178.0M701.2,411.4 706.4,405.6 713.0,400.3 719.6,398.2 724.2,392.9 726.8,388.7 732.7,390.2 739.3,390.8 741.9,398.2 748.5,399.3 749.2,408.8 751.1,414.1 747.8,411.4 741.3,412.5 736.0,414.6 732.1,414.1 729.4,409.9 728.1,404.6 728.8,403.5 724.8,407.7 724.8,410.9 718.2,410.9 711.7,413.0 709.0,409.3 705.1,411.4 701.2,411.4M731.4,465.5 729.4,456.5 728.8,451.2 730.1,442.7 731.4,435.3 728.1,434.8 730.7,428.9 734.7,426.8 732.1,432.1 734.0,423.6 738.0,421.0 744.6,418.9 749.5,421.5 747.8,423.6 744.6,427.9 743.9,432.1 739.9,433.2 738.0,443.8 739.3,452.3 737.3,461.8 734.7,465.0 731.4,465.5M749.5,421.5 754.4,419.9 757.7,418.3 764.3,417.8 769.5,419.4 775.5,420.5 780.7,426.8 782.0,432.1 774.8,434.2 772.2,427.9 769.5,427.4 772.2,434.2 769.5,442.7 769.2,448.0 764.9,451.2 764.3,444.8 761.0,440.1 755.1,444.3 758.4,437.4 759.0,430.0 757.7,426.3 752.4,423.1 749.5,421.5M758.0,464.7 763.0,467.1 769.5,467.1 777.4,461.8 787.3,453.9 788.0,452.8 782.0,452.8 778.7,456.0 772.8,454.9 767.6,459.1 764.3,461.8 760.3,461.3 758.0,464.7M782.0,448.0 784.7,444.8 793.9,441.1 800.4,441.1 804.4,439.0 805.7,445.4 801.1,448.0 795.2,447.5 788.0,448.0 782.0,448.0M761.6,458.1 764.3,458.1 764.3,454.9 762.3,455.4 761.6,458.1M757.7,421.0 765.6,423.6 768.9,422.1 763.6,419.9 757.7,421.0M536.0,562.5 540.0,577.5 545.0,590.0 552.5,605.0 551.0,612.5 560.0,620.0 567.5,632.5 575.0,645.0 582.5,655.0 586.0,665.0 588.8,657.5 580.0,645.0 575.0,632.5 570.0,617.5 565.0,602.5 562.5,590.0 555.0,577.5 552.5,570.0 555.0,572.5 565.0,582.5 567.5,600.0 577.5,612.5 587.5,627.5 595.0,640.0 605.0,655.0 612.5,670.0 615.0,682.5 612.5,692.5 620.0,705.0 630.0,715.0 640.0,722.5 646.7,724.7 660.0,734.0 673.0,739.0 684.0,734.0 692.0,739.0 700.0,751.0 708.0,759.0 721.0,764.7 732.0,770.0 737.0,778.0 742.7,786.0 748.0,791.0 753.0,795.0 761.0,799.0 764.0,801.0M751.0,672.5 755.0,666.0 765.0,662.5 775.0,662.5 785.0,667.5 795.0,675.0 805.0,682.5 815.0,687.5 820.0,692.5 810.0,695.0 800.0,695.0 797.5,690.0 790.0,680.0 780.0,675.0 770.0,671.0 765.0,667.5 757.5,670.0 751.0,675.0 751.0,672.5M793.8,713.8 801.0,711.0 806.0,715.0 800.0,717.5 793.8,713.8M825.0,697.5 835.0,696.0 845.0,697.5 852.5,702.5 857.5,708.8 852.5,711.0 845.0,712.5 840.0,717.5 837.5,712.5 828.8,713.8 820.0,712.5 818.8,708.8 827.5,708.8 830.0,703.8 825.0,697.5M866.0,711.0 875.0,710.8 876.0,715.0 867.5,716.0 866.0,711.0M810.7,801.0 812.0,792.7 818.7,788.7 825.0,784.7 833.0,778.0 837.0,775.0 840.0,779.0 836.0,786.0 833.0,796.7 830.7,801.0M836.0,788.7 838.7,801.0M841.0,787.0 845.0,778.0 848.0,777.0 848.0,782.0 849.0,784.7 856.0,786.0 860.0,792.7 870.7,794.0 878.7,798.0 884.0,796.7 892.0,792.7 900.0,792.7 903.0,796.0 897.0,799.0 900.0,801.0M902.7,791.0 908.0,790.8 907.5,799.0 902.7,800.0 902.7,791.0M282.0,695.0 286.5,693.5 288.6,698.6 285.0,705.5 281.4,701.6 282.0,695.0M744.0,795.5 748.0,797.5 750.5,799.0 746.0,798.0 744.0,795.5" stroke="#000" stroke-width="2.3"/>
<path d="M790.0,623.8 797.5,621.0 801.0,627.5 798.8,631.0M793.8,642.5 795.5,648.0 797.5,652.5M803.8,636.0 807.5,642.5M809.5,647.0 811.0,650.0M812.5,655.0 813.8,658.8M818.0,663.0 820.0,666.0M822.0,669.0 823.0,671.0M824.0,683.0 827.0,682.5M267.8,679.0 269.0,679.8M273.8,682.8 275.0,683.3M278.5,686.2 280.3,687.2" stroke="#000" stroke-width="3" stroke-linecap="square"/>
<path d="M159.3,352.3h4.4v4.4h-4.4ZM857.7,265.2h3.6v3.6h-3.6ZM878.8,253.7h4.0v4.0h-4.0ZM911.8,438.8h4.0v4.0h-4.0ZM867.2,544.7h4.6v4.6h-4.6ZM568.5,599.0h4.0v4.0h-4.0ZM760.8,674.8h4.4v4.4h-4.4ZM880.4,717.0h3.6v3.6h-3.6ZM880.2,716.3h3.4v3.4h-3.4ZM899.3,723.0h3.4v3.4h-3.4ZM900.1,731.4h5.2v5.2h-5.2ZM902.8,740.0h4.0v4.0h-4.0ZM904.5,747.8h4.4v4.4h-4.4ZM905.7,757.0h3.6v3.6h-3.6ZM904.1,765.0h3.6v3.6h-3.6ZM914.2,765.0h3.6v3.6h-3.6ZM900.2,776.2h3.6v3.6h-3.6ZM907.2,784.7h3.6v3.6h-3.6ZM886.3,788.3h3.4v3.4h-3.4ZM256.2,670.7h4.0v4.0h-4.0Z" fill="#000" stroke="none"/>
<path d="M484.8,377.0 728.1,377.0 767.6,430.0 767.6,451.2 761.0,461.8 767.6,461.8 787.3,440.6 800.4,440.6 807.0,430.0 833.3,430.0 853.1,398.2 859.6,398.2 866.2,408.8 866.2,417.3 872.8,430.0 872.8,440.6 846.5,451.2 853.1,472.4 826.8,483.0 813.6,514.8 813.6,536.0 774.1,578.4 787.3,642.0 767.6,642.0 754.4,599.6 695.2,599.6 675.5,610.2 668.9,642.0 655.8,627.2 642.6,599.6 622.9,599.6 609.7,578.4 576.9,578.4 517.7,557.2 484.8,483.0ZM379.6,165.0 274.4,143.8 208.6,175.6 208.6,186.2 221.8,196.8 195.5,207.4 208.6,228.6 234.9,228.6 208.6,249.8 215.2,260.4 202.0,271.0 215.2,281.6 221.8,271.0 248.1,292.2 267.8,292.2 261.2,302.8 195.5,334.6 195.5,355.8 261.2,324.0 280.9,302.8 294.1,313.4 320.4,281.6 340.1,281.6 346.7,271.0 386.2,281.6 425.6,324.0 438.8,334.6 451.9,334.6 451.9,313.4 419.0,271.0 399.3,271.0 379.6,260.4Z" stroke="#ffff00" stroke-width="1"/>
<path d="M373.0,165.0 471.6,154.4 885.9,260.4 912.2,313.4 938.5,334.6 964.8,398.2 958.3,419.4 932.0,408.8 872.8,451.2 859.6,419.4 859.6,408.8 853.1,408.8 839.9,430.0 813.6,430.0 787.3,451.2 701.8,387.6 491.4,387.6 484.8,398.2 432.2,345.2 425.6,324.0 445.3,324.0 445.3,313.4 419.0,281.6 405.9,281.6 373.0,271.0Z" stroke="#00ffff" stroke-width="1"/>
</g>
<g shape-rendering="crispEdges">
<rect x="1010" y="791.23" width="43" height="11.27" fill="#00008f"/>
<rect x="1010" y="780.47" width="43" height="11.27" fill="#00009f"/>
<rect x="1010" y="769.70" width="43" height="11.27" fill="#0000af"/>
<rect x="1010" y="758.94" width="43" height="11.27" fill="#0000bf"/>
<rect x="1010" y="748.17" width="43" height="11.27" fill="#0000cf"/>
<rect x="1010" y="737.41" width="43" height="11.27" fill="#0000df"/>
<rect x="1010" y="726.64" width="43" height="11.27" fill="#0000ef"/>
<rect x="1010" y="715.88" width="43" height="11.27" fill="#0000ff"/>
<rect x="1010" y="705.11" width="43" height="11.27" fill="#0010ff"/>
<rect x="1010" y="694.34" width="43" height="11.27" fill="#0020ff"/>
<rect x="1010" y="683.58" width="43" height="11.27" fill="#0030ff"/>
<rect x="1010" y="672.81" width="43" height="11.27" fill="#0040ff"/>
<rect x="1010" y="662.05" width="43" height="11.27" fill="#0050ff"/>
<rect x="1010" y="651.28" width="43" height="11.27" fill="#0060ff"/>
<rect x="1010" y="640.52" width="43" height="11.27" fill="#0070ff"/>
<rect x="1010" y="629.75" width="43" height="11.27" fill="#0080ff"/>
<rect x="1010" y="618.98" width="43" height="11.27" fill="#008fff"/>
<rect x="1010" y="608.22" width="43" height="11.27" fill="#009fff"/>
<rect x="1010" y="597.45" width="43" height="11.27" fill="#00afff"/>
<rect x="1010" y="586.69" width="43" height="11.27" fill="#00bfff"/>
<rect x="1010" y="575.92" width="43" height="11.27" fill="#00cfff"/>
<rect x="1010" y="565.16" width="43" height="11.27" fill="#00dfff"/>
<rect x="1010" y="554.39" width="43" height="11.27" fill="#00efff"/>
<rect x="1010" y="543.62" width="43" height="11.27" fill="#00ffff"/>
<rect x="1010" y="532.86" width="43" height="11.27" fill="#10ffef"/>
<rect x="1010" y="522.09" width="43" height="11.27" fill="#20ffdf"/>
<rect x="1010" y="511.33" width="43" height="11.27" fill="#30ffcf"/>
<rect x="1010" y="500.56" width="43" height="11.27" fill="#40ffbf"/>
<rect x="1010" y="489.80" width="43" height="11.27" fill="#50ffaf"/>
<rect x="1010" y="479.03" width="43" height="11.27" fill="#60ff9f"/>
<rect x="1010" y="468.27" width="43" height="11.27" fill="#70ff8f"/>
<rect x="1010" y="457.50" width="43" height="11.27" fill="#80ff80"/>
<rect x="1010" y="446.73" width="43" height="11.27" fill="#8fff70"/>
<rect x="1010" y="435.97" width="43" height="11.27" fill="#9fff60"/>
<rect x="1010" y="425.20" width="43" height="11.27" fill="#afff50"/>
<rect x="1010" y="414.44" width="43" height="11.27" fill="#bfff40"/>
<rect x="1010" y="403.67" width="43" height="11.27" fill="#cfff30"/>
<rect x="1010" y="392.91" width="43" height="11.27" fill="#dfff20"/>
<rect x="1010" y="382.14" width="43" height="11.27" fill="#efff10"/>
<rect x="1010" y="371.38" width="43" height="11.27" fill="#ffff00"/>
<rect x="1010" y="360.61" width="43" height="11.27" fill="#ffef00"/>
<rect x="1010" y="349.84" width="43" height="11.27" fill="#ffdf00"/>
<rect x="1010" y="339.08" width="43" height="11.27" fill="#ffcf00"/>
<rect x="1010" y="328.31" width="43" height="11.27" fill="#ffbf00"/>
<rect x="1010" y="317.55" width="43" height="11.27" fill="#ffaf00"/>
<rect x="1010" y="306.78" width="43" height="11.27" fill="#ff9f00"/>
<rect x="1010" y="296.02" width="43" height="11.27" fill="#ff8f00"/>
<rect x="1010" y="285.25" width="43" height="11.27" fill="#ff8000"/>
<rect x="1010" y="274.48" width="43" height="11.27" fill="#ff7000"/>
<rect x="1010" y="263.72" width="43" height="11.27" fill="#ff6000"/>
<rect x="1010" y="252.95" width="43" height="11.27" fill="#ff5000"/>
<rect x="1010" y="242.19" width="43" height="11.27" fill="#ff4000"/>
<rect x="1010" y="231.42" width="43" height="11.27" fill="#ff3000"/>
<rect x="1010" y="220.66" width="43" height="11.27" fill="#ff2000"/>
<rect x="1010" y="209.89" width="43" height="11.27" fill="#ff1000"/>
<rect x="1010" y="199.12" width="43" height="11.27" fill="#ff0000"/>
<rect x="1010" y="188.36" width="43" height="11.27" fill="#ef0000"/>
<rect x="1010" y="177.59" width="43" height="11.27" fill="#df0000"/>
<rect x="1010" y="166.83" width="43" height="11.27" fill="#cf0000"/>
<rect x="1010" y="156.06" width="43" height="11.27" fill="#bf0000"/>
<rect x="1010" y="145.30" width="43" height="11.27" fill="#af0000"/>
<rect x="1010" y="134.53" width="43" height="11.27" fill="#9f0000"/>
<rect x="1010" y="123.77" width="43" height="11.27" fill="#8f0000"/>
<rect x="1010" y="113.00" width="43" height="11.27" fill="#800000"/>
<rect x="1010.5" y="113.5" width="42" height="689" fill="none" stroke="#000" stroke-width="1"/>
<path d="M1011,343.5 h6 M1052,343.5 h-6" stroke="#000" stroke-width="1"/>
<path d="M1011,572.5 h6 M1052,572.5 h-6" stroke="#000" stroke-width="1"/>
<rect x="156.5" y="112.5" width="822" height="689" fill="none" stroke="#000" stroke-width="1"/>
</g>
<text x="287.50 302.50 317.50 332.50 347.50 362.50 377.50 392.50 407.50 422.50 437.50 452.50 467.50 482.50 497.50 512.50 527.50 542.50 557.50 572.50 587.50 602.50 617.50 632.50 647.50 662.50 677.50 692.50 707.50 722.50 737.50 752.50 767.50 782.50 797.50 812.50 827.50" y="19.5" font-size="25" xml:space="preserve" stroke="#000" stroke-width="0.7">Shadow Raytheon LPV Coverage Contours</text>
<text x="505.55 520.00 535.00 550.00 565.00 580.00 595.00 610.00" y="45.5" font-size="25" xml:space="preserve" stroke="#000" stroke-width="0.7"><tspan class="s">0</tspan>6/22/21</text>
<text x="452.50 467.50 482.50 497.50 512.50 527.50 542.50 557.50 572.50 587.50 602.50 617.50 632.50 647.50 662.50" y="71.5" font-size="25" xml:space="preserve" stroke="#000" stroke-width="0.7">Week 2163 Day 2</text>
<text x="221.14 234.04 246.94 260.31" y="822.5" font-size="21.5" xml:space="preserve" stroke="#fff" stroke-width="0.35">-16<tspan class="s">0</tspan></text>
<text x="352.66 365.56 378.46 391.83" y="822.5" font-size="21.5" xml:space="preserve" stroke="#fff" stroke-width="0.35">-14<tspan class="s">0</tspan></text>
<text x="484.18 497.08 509.98 523.35" y="822.5" font-size="21.5" xml:space="preserve" stroke="#fff" stroke-width="0.35">-12<tspan class="s">0</tspan></text>
<text x="615.70 628.60 641.97 654.87" y="822.5" font-size="21.5" xml:space="preserve" stroke="#fff" stroke-width="0.35">-1<tspan class="s">0</tspan><tspan class="s">0</tspan></text>
<text x="754.77 767.67 781.04" y="822.5" font-size="21.5" xml:space="preserve" stroke="#fff" stroke-width="0.35">-8<tspan class="s">0</tspan></text>
<text x="886.29 899.19 912.56" y="822.5" font-size="21.5" xml:space="preserve" stroke="#fff" stroke-width="0.35">-6<tspan class="s">0</tspan></text>
<text x="123.70 137.07" y="806.0" font-size="21.5" xml:space="preserve" stroke="#fff" stroke-width="0.35">1<tspan class="s">0</tspan></text>
<text x="123.70 137.07" y="700.0" font-size="21.5" xml:space="preserve" stroke="#fff" stroke-width="0.35">2<tspan class="s">0</tspan></text>
<text x="123.70 137.07" y="594.0" font-size="21.5" xml:space="preserve" stroke="#fff" stroke-width="0.35">3<tspan class="s">0</tspan></text>
<text x="123.70 137.07" y="488.0" font-size="21.5" xml:space="preserve" stroke="#fff" stroke-width="0.35">4<tspan class="s">0</tspan></text>
<text x="123.70 137.07" y="382.0" font-size="21.5" xml:space="preserve" stroke="#fff" stroke-width="0.35">5<tspan class="s">0</tspan></text>
<text x="123.70 137.07" y="276.0" font-size="21.5" xml:space="preserve" stroke="#fff" stroke-width="0.35">6<tspan class="s">0</tspan></text>
<text x="123.70 137.07" y="170.0" font-size="21.5" xml:space="preserve" stroke="#fff" stroke-width="0.35">7<tspan class="s">0</tspan></text>
<text x="521.40 532.20 543.00 553.80 564.60 575.40 586.20 597.00 607.80" y="843.5" font-size="18" xml:space="preserve" font-weight="bold">Longitude</text>
<text transform="translate(110.5,455) rotate(-90)" font-size="18" font-weight="bold" text-anchor="middle">Latitude</text>
<text x="1058" y="119.3" font-size="20" class="s">1</text>
<text x="1058" y="349.0" font-size="20" class="s">0.95</text>
<text x="1058" y="578.6" font-size="20" class="s">0.9</text>
<text x="1058" y="808.3" font-size="20" class="s">0.85</text>
<text x="162.00 171.00 180.00 189.00 198.00 207.00 216.00 225.00 234.00 243.00 252.00 261.00 270.00 279.00 288.00 297.00 306.00 315.00 324.00 333.00 342.00 351.00 360.00 369.00 378.00 387.00 396.00 405.00 414.00 423.00 432.00 441.00 450.00 459.00 468.00" y="530" font-size="15" xml:space="preserve" >Percent| CONUS   | Alaska  | Canada</text>
<text x="162.00 171.00 180.00 189.00 198.00 207.00 216.00 225.00 234.00 243.00 252.00 261.00 270.00 279.00 288.00 297.00 306.00 315.00 324.00 333.00 342.00 351.00 360.00 369.00 378.00 387.00 396.00 405.00 414.00 423.00 432.00 441.00 450.00 459.00 468.00 477.00 486.00" y="551" font-size="15" xml:space="preserve" > Avail.|Coverage |Coverage | Coverage</text>
<text x="162.00 171.00 180.00 189.00 198.00 207.00 216.00 225.00 234.00 243.00 252.33 261.33 270.00 279.33 288.33 297.00 306.00 315.00 324.00 333.00 342.00 351.33 360.33 369.00 378.33 387.33 396.00 405.00 414.00 423.00 432.00 441.33 450.33 459.00 468.33 477.33 486.00" y="573" font-size="15" xml:space="preserve" >  95   | 1<tspan class="s">0</tspan><tspan class="s">0</tspan>.<tspan class="s">0</tspan><tspan class="s">0</tspan>%  | 1<tspan class="s">0</tspan><tspan class="s">0</tspan>.<tspan class="s">0</tspan><tspan class="s">0</tspan>% | 1<tspan class="s">0</tspan><tspan class="s">0</tspan>.<tspan class="s">0</tspan><tspan class="s">0</tspan>%</text>
<text x="162.00 171.00 180.00 189.00 198.00 207.00 216.00 225.00 234.00 243.00 252.33 261.33 270.00 279.33 288.33 297.00 306.00 315.00 324.00 333.00 342.00 351.33 360.33 369.00 378.33 387.33 396.00 405.00 414.00 423.00 432.00 441.33 450.33 459.00 468.33 477.33 486.00" y="594" font-size="15" xml:space="preserve" >  98   | 1<tspan class="s">0</tspan><tspan class="s">0</tspan>.<tspan class="s">0</tspan><tspan class="s">0</tspan>%  | 1<tspan class="s">0</tspan><tspan class="s">0</tspan>.<tspan class="s">0</tspan><tspan class="s">0</tspan>% | 1<tspan class="s">0</tspan><tspan class="s">0</tspan>.<tspan class="s">0</tspan><tspan class="s">0</tspan>%</text>
<text x="162.00 171.00 180.00 189.00 198.00 207.00 216.00 225.00 234.00 243.00 252.33 261.33 270.00 279.33 288.33 297.00 306.00 315.00 324.00 333.00 342.00 351.00 360.00 369.00 378.00 387.00 396.00 405.00 414.00 423.00 432.33 441.33 450.00 459.33 468.33 477.00" y="615" font-size="15" xml:space="preserve" >  99   | 1<tspan class="s">0</tspan><tspan class="s">0</tspan>.<tspan class="s">0</tspan><tspan class="s">0</tspan>%  | 99.66% | 1<tspan class="s">0</tspan><tspan class="s">0</tspan>.<tspan class="s">0</tspan><tspan class="s">0</tspan>%</text>
<text x="162.00 171.00 180.00 189.00 198.00 207.00 216.00 225.00 234.00 243.00 252.33 261.33 270.00 279.33 288.33 297.00 306.00 315.00 324.00 333.00 342.00 351.00 360.00 369.00 378.00 387.00 396.00 405.00 414.00 423.00 432.33 441.33 450.00 459.33 468.33 477.00" y="636" font-size="15" xml:space="preserve" >99.9   | 1<tspan class="s">0</tspan><tspan class="s">0</tspan>.<tspan class="s">0</tspan><tspan class="s">0</tspan>%  | 99.66% | 1<tspan class="s">0</tspan><tspan class="s">0</tspan>.<tspan class="s">0</tspan><tspan class="s">0</tspan>%</text>
<text x="162.00 171.00 180.33 189.33 198.00 207.00 216.00 225.00 234.00 243.00 252.33 261.33 270.00 279.33 288.33 297.00 306.00 315.00 324.00 333.00 342.00 351.00 360.00 369.00 378.00 387.00 396.00 405.00 414.00 423.00 432.33 441.33 450.00 459.33 468.33 477.00" y="657" font-size="15" xml:space="preserve" > 1<tspan class="s">0</tspan><tspan class="s">0</tspan>   | 1<tspan class="s">0</tspan><tspan class="s">0</tspan>.<tspan class="s">0</tspan><tspan class="s">0</tspan>%  | 99.66% | 1<tspan class="s">0</tspan><tspan class="s">0</tspan>.<tspan class="s">0</tspan><tspan class="s">0</tspan>%</text>
<text x="106.07 112.07 118.07 124.07 130.07 136.07 142.07 148.07 154.07 160.07 166.07 172.07 178.07 184.07 190.07 196.07 202.07 208.07 214.07 220.07 226.07 232.07 238.07 244.07 250.07 256.07 262.07 268.07 274.07 280.07 286.07 292.07 298.07 304.07 310.07 316.07 322.07 328.07" y="561.5" font-size="15" xml:space="preserve"  transform="scale(1.5,1)">--------------------------------------</text>
<text x="187.00 193.00 199.00 205.00 211.00 217.00 223.00 229.00 235.00 241.00 247.00 253.00 259.00 265.00 271.00 277.00 283.00 289.00 295.00 301.00 307.00 313.00 319.00 325.00 331.00 337.00 343.00" y="746.5" font-size="10" xml:space="preserve" >W.J.H. FAA Technical Center</text>
<text x="187.00 193.00 199.00 205.00 211.00 217.00 223.00 229.00 235.00 241.00 247.00 253.00 259.00 265.00" y="759.5" font-size="10" xml:space="preserve" >WAAS Test Team</text>
</svg></body></html>
